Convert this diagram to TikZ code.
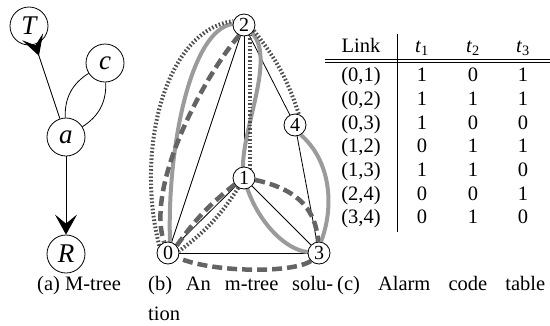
\documentclass[tikz,border=0pt]{standalone}
\usepackage{fontspec}
\setmainfont{Liberation Serif}
\usetikzlibrary{arrows.meta,backgrounds}
\definecolor{solidgray}{RGB}{155,155,155}
\definecolor{dashgray}{RGB}{100,100,100}
\definecolor{dotgray}{RGB}{80,80,80}
\begin{document}
\begin{tikzpicture}[x=1pt,y=-1pt,
  every node/.style={font=\fontsize{20.5}{24}\selectfont},
  bignode/.style={circle,draw,line width=0.8pt,minimum size=38pt,inner sep=0pt,font=\fontsize{27}{30}\selectfont\itshape},
  smallnode/.style={circle,draw,fill=white,line width=0.8pt,minimum size=22pt,inner sep=0pt,font=\fontsize{20}{22}\selectfont},
  txt/.style={inner sep=0pt,anchor=base},
  txtw/.style={inner sep=0pt,anchor=base west},
  edgeline/.style={line width=0.8pt},
  bigarrow/.style={line width=0.8pt,-{Stealth[length=20pt,width=22pt,inset=9pt]}},
  tsolid/.style={line width=4pt,solidgray},
  tdash/.style={line width=4.5pt,dashgray,dash pattern=on 10pt off 5pt},
  tdot/.style={line width=4pt,dotgray,dash pattern=on 1.6pt off 2pt},
  rule/.style={line width=0.8pt}]
\useasboundingbox (0,0) rectangle (550,325);

% ---------- (a) M-tree ----------
\node[bignode] (T) at (29,26) {T};
\node[bignode] (c) at (105,63) {c};
\node[bignode] (a) at (66,137) {a};
\node[bignode] (R) at (66,254) {R};
\draw[bigarrow] (a) -- (R);
\draw[line width=0.8pt,-{Stealth[reversed,length=20pt,width=22pt,inset=9pt]},shorten >=-8pt] (a) -- (T);
\draw[edgeline] (a) to[bend left=30] (c);
\draw[edgeline] (a) to[bend right=30] (c);

% ---------- (b) m-tree solution ----------
\node[smallnode] (n0) at (168,253) {0};
\node[smallnode] (n1) at (244,178) {1};
\node[smallnode] (n2) at (244,25) {2};
\node[smallnode] (n3) at (319,253) {3};
\node[smallnode] (n4) at (295,125) {4};
\begin{scope}[on background layer]
  \draw[edgeline] (n0) -- (n1);
  \draw[edgeline] (n0) -- (n2);
  \draw[edgeline] (n0) -- (n3);
  \draw[edgeline] (n1) -- (n2);
  \draw[edgeline] (n1) -- (n3);
  \draw[edgeline] (n2) -- (n4);
  \draw[edgeline] (n3) -- (n4);
  % t2 : solid
  \draw[tsolid] (n0.80) .. controls (167,150) and (190,30) .. (n2.175);
  \draw[tsolid] (n2.-45) .. controls (278,60) and (236,140) .. (n1.center)
                .. controls (255,220) and (285,250) .. (n3.175);
  \draw[tsolid] (n3.80) .. controls (335,205) and (330,160) .. (n4.-60);
  % t1 : dashed
  \draw[tdash] (n2.-115) .. controls (205,75) and (145,185) .. (n0.110);
  \draw[tdash] (n0.40) to[bend left=8] (n1.215);
  \draw[tdash] (n1.-10) .. controls (292,188) and (316,205) .. (n3.95);
  \draw[tdash] (n3.-135) .. controls (290,274) and (210,272) .. (n0.-25);
  % t3 : dotted
  \draw[tdot] (n0.140) .. controls (135,150) and (165,30) .. (n2.160);
  \draw[tdot] (n2.-30) to[bend left=10] (n4.70);
  \draw[tdot] (n2.-60) -- (n1.60);
  \draw[tdot] (n1.-120) to[bend left=10] (n0.10);
\end{scope}

% ---------- (c) alarm code table ----------
\node[txt] (hL) at (361,52) {Link};
\node[txt] (h1) at (422,52) {\textit{t}\textsubscript{1}};
\node[txt] (h2) at (473,52) {\textit{t}\textsubscript{2}};
\node[txt] (h3) at (523,52) {\textit{t}\textsubscript{3}};
\foreach \lnk/\va/\vb/\vc [count=\i from 0] in {(0,1)/1/0/1,(0,2)/1/1/1,(0,3)/1/0/0,(1,2)/0/1/1,(1,3)/1/1/0,(2,4)/0/0/1,(3,4)/0/1/0}{
  \node[txt] (l\i) at (361,81.7+23.7*\i) {\lnk};
  \node[txt] (a\i) at (422,81.7+23.7*\i) {\va};
  \node[txt] (b\i) at (473,81.7+23.7*\i) {\vb};
  \node[txt] (c\i) at (523,81.7+23.7*\i) {\vc};
}
\draw[rule] (325,59.3) -- (550,59.3);
\draw[rule] (325,62.7) -- (550,62.7);
\draw[rule] (397,34) -- (397,232);

% ---------- captions ----------
\node[txtw] (capa) at (37,290) {(a) M-tree};
\node[txtw] (capb) at (148,290) {\makebox[185pt][s]{(b) An m-tree solu-}};
\node[txtw] (capb2) at (148,320) {tion};
\node[txtw] (capc) at (337,290) {\makebox[208pt][s]{(c) Alarm code table}};
\end{tikzpicture}
\end{document}
